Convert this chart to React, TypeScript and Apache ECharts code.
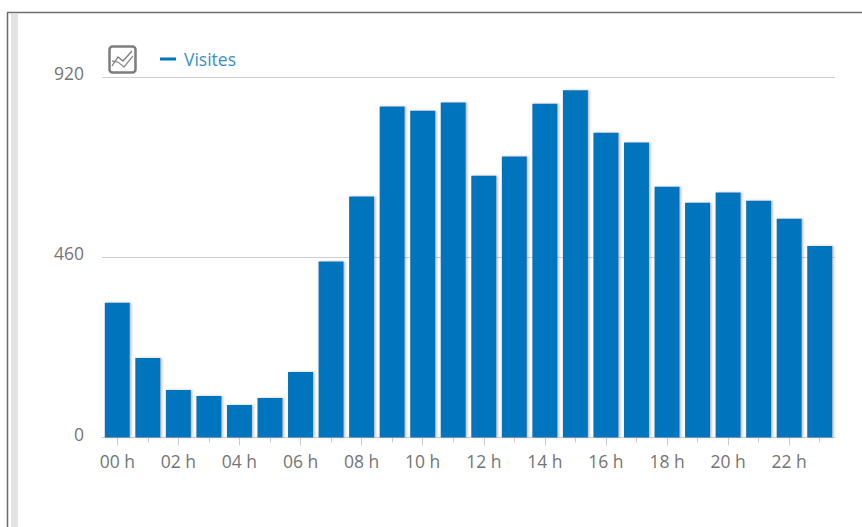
import React, { useEffect, useRef } from "react";
import * as echarts from "echarts";

const hours = ["00 h","01 h","02 h","03 h","04 h","05 h","06 h","07 h","08 h","09 h","10 h","11 h","12 h","13 h","14 h","15 h","16 h","17 h","18 h","19 h","20 h","21 h","22 h","23 h"];
const visites = [344,203,121,106,83,101,167,449,615,845,834,855,668,717,852,886,778,753,640,599,625,604,558,489];
const seriesName = "Visites";
const yMax = 920;
const yStep = 460;

export default function App() {
  const ref = useRef<HTMLDivElement>(null);
  useEffect(() => {
    const chart = echarts.init(ref.current!, undefined, { renderer: "svg" });
    chart.setOption({
      animation: false,
      backgroundColor: "#ffffff",
      textStyle: { fontFamily: "Open Sans" },
      grid: { left: 102, right: 27, top: 77, bottom: 89.5, containLabel: false },
      legend: {
        show: true, left: 155, top: 45, icon: "rect", itemWidth: 16, itemHeight: 3, itemGap: 6,
        textStyle: { color: "#3a8fc8", fontSize: 17.5, fontFamily: "Open Sans", padding: [0,0,0,3] },
        data: [seriesName],
      },
      xAxis: [
        {
          type: "category", data: hours,
          axisLine: { lineStyle: { color: "#cccccc", width: 1 } },
          axisTick: { show: true, interval: 1, length: 8, alignWithLabel: true, lineStyle: { color: "#cccccc" } },
          axisLabel: { interval: 1, color: "#757575", fontSize: 17.5, margin: 14, hideOverlap: false },
        },
        {
          type: "category", data: hours, position: "bottom",
          axisLine: { show: false },
          axisTick: { show: true, interval: 0, length: 5, alignWithLabel: true, lineStyle: { color: "#cccccc" } },
          axisLabel: { show: false },
        },
      ],
      yAxis: {
        type: "value", min: 0, max: yMax, interval: yStep,
        axisLine: { show: false }, axisTick: { show: false },
        axisLabel: { color: "#757575", fontSize: 17.5, margin: 18, verticalAlign: "bottom", lineHeight: 8 },
        splitLine: { lineStyle: { color: "#cfcfcf", width: 1 } },
      },
      series: [{
        name: seriesName, type: "bar", data: visites, barWidth: 25, xAxisIndex: 0,
        itemStyle: { color: "#0075bd", shadowColor: "rgba(120,120,120,0.5)", shadowBlur: 2, shadowOffsetX: 1.5, shadowOffsetY: 0 },
      }],
      graphic: [
        { type: "rect", silent: true, shape: { x: 7.5, y: 12.5, width: 870, height: 530 }, style: { fill: "none", stroke: "#6e6e6e", lineWidth: 1.5 } },
        { type: "rect", silent: true, shape: { x: 11, y: 14, width: 7, height: 520 }, style: { fill: "#e2e2e2" } },
        { type: "rect", silent: true, shape: { x: 109.5, y: 46.5, width: 26, height: 26, r: 3 }, style: { fill: "#ffffff", stroke: "#7d7d7d", lineWidth: 2.5 } },
        { type: "polyline", silent: true, shape: { points: [[112,66],[118,57],[123,61],[132,51]] }, style: { fill: "none", stroke: "#7d7d7d", lineWidth: 1.3 } },
        { type: "polyline", silent: true, shape: { points: [[112,61],[118,62],[124,67],[133,56]] }, style: { fill: "none", stroke: "#909090", lineWidth: 1.3 } },
      ],
    });
    return () => chart.dispose();
  }, []);
  return <div ref={ref} style={{ position: "fixed", left: 0, top: 0, width: 862, height: 527 }} />;
}
